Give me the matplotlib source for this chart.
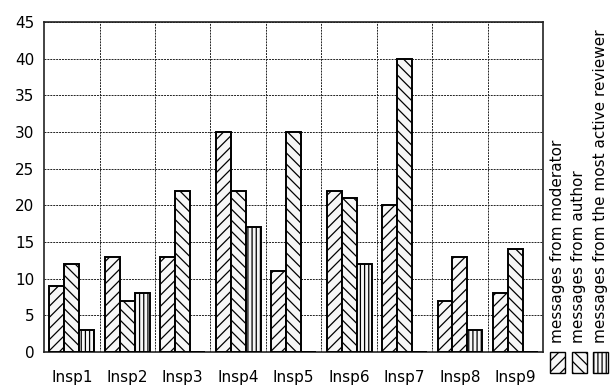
import matplotlib
matplotlib.use('Agg')
import matplotlib.pyplot as plt
from matplotlib.patches import Rectangle
import numpy as np

plt.rcParams['font.family'] = ['DejaVu Sans']
plt.rcParams['hatch.linewidth'] = 0.9

inspections = ['Insp1', 'Insp2', 'Insp3', 'Insp4', 'Insp5', 'Insp6', 'Insp7', 'Insp8', 'Insp9']
moderator = [9, 13, 13, 30, 11, 22, 20, 7, 8]
author = [12, 7, 22, 22, 30, 21, 40, 13, 14]
reviewer = [3, 8, 0, 17, 0, 12, 0, 3, 0]

series = [
    ('messages from moderator', moderator, '///'),
    ('messages from author', author, '\\\\\\'),
    ('messages from the most active reviewer', reviewer, '||||'),
]

FACE = '#f7f7f7'
fig = plt.figure(figsize=(6.13, 3.85), dpi=100)
ax = fig.add_axes([0.072, 0.086, 0.814, 0.857])

x = np.arange(1, len(inspections) + 1)
w = 0.27
all_bars = []
for i, (label, vals, hatch) in enumerate(series):
    bars = ax.bar(x + (i - 1) * w, vals, w, facecolor=FACE, edgecolor='black',
                  linewidth=1.4, hatch=hatch, zorder=3)
    all_bars.append(bars)
# author bar of Insp8 is hatched the other way in the original
all_bars[1][7].set_hatch('///')

ax.set_xlim(0.5, 9.5)
ax.set_ylim(0, 45)
ax.set_yticks(range(0, 46, 5))
ax.set_xticks(x)
ax.set_xticklabels(inspections)
ax.set_xticks(np.arange(1.5, 9.5, 1), minor=True)
ax.tick_params(axis='both', which='both', length=0, labelsize=11)
ax.tick_params(axis='x', pad=13)
ax.tick_params(axis='y', pad=7)
ax.grid(True, axis='y', which='major', color='#222222', linestyle=(0, (2, 1)), linewidth=0.7, zorder=0)
ax.grid(True, axis='x', which='minor', color='#222222', linestyle=(0, (2, 1)), linewidth=0.7, zorder=0)
for s in ax.spines.values():
    s.set_linewidth(1.2)
    s.set_color('#222222')

# legend: rotated labels with hatch swatches below
W, H = 613, 385
for i, (label, vals, hatch) in enumerate(series):
    px = 550 + i * 21.5
    fig.patches.append(Rectangle((px / W, (H - 373) / H), 15 / W, 21 / H,
                                 transform=fig.transFigure, facecolor=FACE,
                                 edgecolor='black', linewidth=1.0, hatch=hatch))
    fig.text((px + 7.5) / W, (H - 343) / H, label, rotation=90, ha='center',
             va='bottom', fontsize=11)

plt.savefig('out.png', dpi=100, facecolor='white')
plt.close()
